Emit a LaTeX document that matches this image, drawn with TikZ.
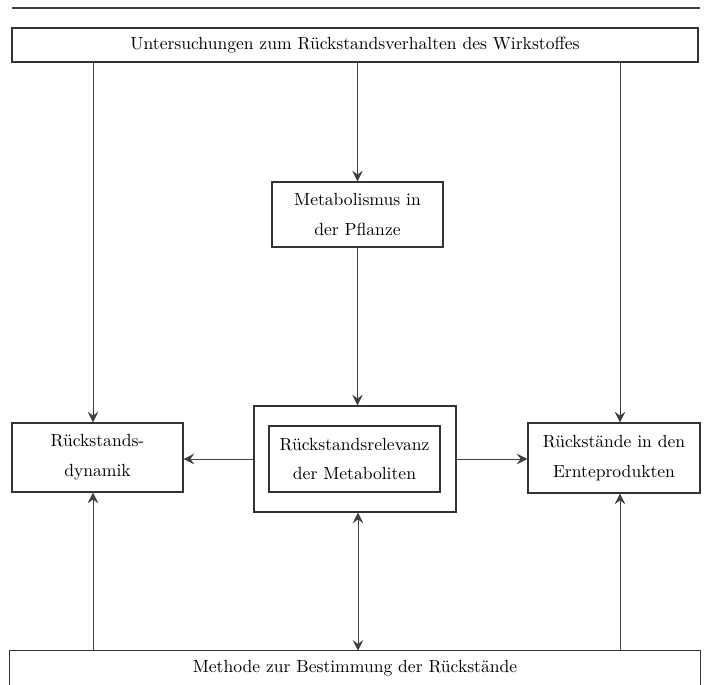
\documentclass[tikz,border=0pt]{standalone}
\usepackage{amsmath}
\usepackage{tikz}
\usetikzlibrary{calc,positioning,arrows.meta}
\usepackage[dvipsnames,svgnames]{xcolor}

\tikzset{
    kotak/.style={draw=black!80,thick,align=center,inner sep=0pt,
        execute at begin node={\baselineskip=17pt}},
    mata/.tip={Stealth[length=6pt,width=6pt,inset=2.2pt]},
    panah/.style={black!75,thin,-mata}
}

\begin{document}
\begin{tikzpicture}
    
    % Batas gambar
    \useasboundingbox (0,0) rectangle (14.16,13.7);
    
    % Garis di atas
    \draw[black!75,semithick] (0.24,13.54)--(14.0,13.54);
    
    % Kotak-kotak
    \node[kotak,minimum width=13.72cm,minimum height=0.68cm] (untersuchung) at (7.1,12.8) {Untersuchungen zum R\"uckstandsverhalten des Wirkstoffes};
    \node[kotak,minimum width=3.42cm,minimum height=1.3cm] (metabolismus) at (7.15,9.41) {Metabolismus in\\der Pflanze};
    \node[kotak,minimum width=4.04cm,minimum height=2.12cm] (luar) at (7.1,4.52) {};
    \node[kotak,minimum width=3.42cm,minimum height=1.32cm] (relevanz) at (7.09,4.52) {R\"uckstandsrelevanz\\der Metaboliten};
    \node[kotak,minimum width=3.42cm,minimum height=1.38cm] (dynamik) at (1.95,4.55) {R\"uckstands-\\dynamik};
    \node[kotak,minimum width=3.44cm,minimum height=1.4cm] (ernte) at (12.28,4.54) {R\"uckst\"ande in den\\Ernteprodukten};
    
    % Kotak bawah (terpotong)
    \node[align=center,minimum width=13.8cm,minimum height=0.68cm,inner sep=0pt] (methode) at (7.1,0.34) {Methode zur Bestimmung der R\"uckst\"ande};
    \draw[black!80,thick] (methode.south west)--(methode.north west)--(methode.north east)--(methode.south east);
    
    % Panah dari atas
    \draw[panah] (untersuchung.south -| metabolismus.north)--(metabolismus.north);
    \draw[panah] (metabolismus.south)--(metabolismus.south |- luar.north);
    \draw[panah] ($(untersuchung.south -| dynamik.north)+(-0.09,0)$)--($(dynamik.north)+(-0.09,0)$);
    \draw[panah] ($(untersuchung.south -| ernte.north)+(0.12,0)$)--($(ernte.north)+(0.12,0)$);
    
    % Panah ke samping
    \draw[panah] (luar.west)--(luar.west -| dynamik.east);
    \draw[panah] (luar.east)--(luar.east -| ernte.west);
    
    % Panah dari bawah
    \draw[panah] ($(methode.north -| dynamik.south)+(-0.09,0)$)--($(dynamik.south)+(-0.09,0)$);
    \draw[panah] ($(methode.north -| ernte.south)+(0.12,0)$)--($(ernte.south)+(0.12,0)$);
    \draw[panah,mata-mata] ($(luar.south)+(0.06,0)$)--($(luar.south |- methode.north)+(0.06,0)$);
    
    \end{tikzpicture}
\end{document}
